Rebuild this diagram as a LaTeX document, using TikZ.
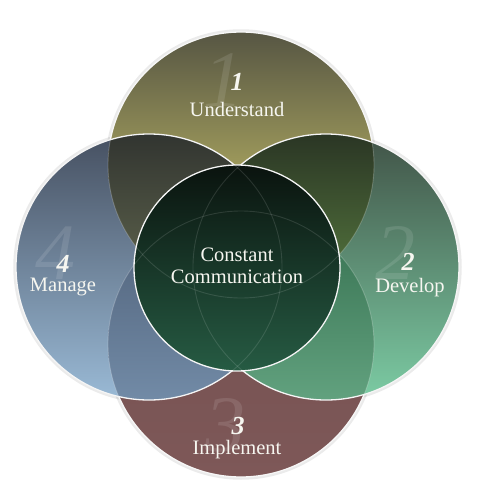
\documentclass[tikz,border=0pt]{standalone}
\usepackage{fontspec}
\setmainfont{Liberation Serif}
\definecolor{topA}{HTML}{565543}
\definecolor{topB}{HTML}{A09C5C}
\definecolor{botA}{HTML}{724F4F}
\definecolor{botB}{HTML}{7E5858}
\definecolor{lefA}{HTML}{465061}
\definecolor{lefB}{HTML}{9ABAD6}
\definecolor{rigA}{HTML}{415347}
\definecolor{rigB}{HTML}{7CCCA4}
\definecolor{tlA}{HTML}{313430}
\definecolor{tlB}{HTML}{646A50}
\definecolor{trA}{HTML}{2A3524}
\definecolor{trB}{HTML}{587C40}
\definecolor{blA}{HTML}{4E5F77}
\definecolor{blB}{HTML}{728BA7}
\definecolor{brA}{HTML}{346E4E}
\definecolor{brB}{HTML}{62A27F}
\definecolor{cenA}{HTML}{0A130E}
\definecolor{cenM}{HTML}{163424}
\definecolor{cenB}{HTML}{265B43}
\definecolor{txt}{HTML}{F6F6F0}
\begin{document}
\begin{tikzpicture}[x=1pt,y=-1pt,
  ring/.style={draw=white!92!gray, line width=1.3pt},
  halo/.style={draw=black, line width=3.5pt, opacity=0.08},
  faint/.style={draw=white, line width=0.9pt, opacity=0.22},
  lbl/.style={text=txt, font=\fontsize{20.5}{23}\selectfont, inner sep=0pt},
  num/.style={text=txt, font=\fontsize{26}{28}\selectfont\itshape\bfseries, inner sep=0pt},
  ghost/.style={text=white, opacity=0.11, font=\fontsize{80}{80}\selectfont\itshape, inner sep=0pt},
]
\useasboundingbox (0,0) rectangle (481,488);
\coordinate (T) at (241,165);
\coordinate (B) at (241,344);
\coordinate (L) at (149,267);
\coordinate (R) at (326,267);
\coordinate (C) at (237,268);
\def\rr{133pt}
\def\rc{103pt}
% halos
\foreach \p in {T,B,L,R}{\draw[halo] (\p) circle[radius=\rr+1pt];}
% top circle
\begin{scope}
  \clip (T) circle[radius=\rr];
  \shade[top color=topA, bottom color=topB] (100,31) rectangle (390,172);
  \fill[topB] (100,171) rectangle (390,300);
\end{scope}
\draw[ring] (T) circle[radius=\rr];
% bottom circle
\shade[top color=botA, bottom color=botB] (B) circle[radius=\rr];
\draw[ring] (B) circle[radius=\rr];
% left and right circles
\shade[top color=lefA, bottom color=lefB] (L) circle[radius=\rr];
\shade[top color=rigA, bottom color=rigB] (R) circle[radius=\rr];
% overlaps
\begin{scope}
  \clip (T) circle[radius=\rr]; \clip (L) circle[radius=\rr];
  \shade[top color=tlA, bottom color=tlB] (0,132) rectangle (300,300);
\end{scope}
\begin{scope}
  \clip (T) circle[radius=\rr]; \clip (R) circle[radius=\rr];
  \shade[top color=trA, bottom color=trB] (180,132) rectangle (481,300);
\end{scope}
\begin{scope}
  \clip (B) circle[radius=\rr]; \clip (L) circle[radius=\rr];
  \shade[top color=blA, bottom color=blB] (0,210) rectangle (300,402);
\end{scope}
\begin{scope}
  \clip (B) circle[radius=\rr]; \clip (R) circle[radius=\rr];
  \shade[top color=brA, bottom color=brB] (180,210) rectangle (481,402);
\end{scope}
% faint edges of top / bottom seen through
\draw[faint] (T) circle[radius=\rr];
\draw[faint] (B) circle[radius=\rr];
\draw[ring] (L) circle[radius=\rr];
\draw[ring] (R) circle[radius=\rr];
% centre circle
\shade[top color=cenA, middle color=cenM, bottom color=cenB] (C) circle[radius=\rc];
\begin{scope}
  \clip (C) circle[radius=\rc];
  \foreach \p in {T,B,L,R}{\draw[faint, opacity=0.12] (\p) circle[radius=\rr];}
\end{scope}
\draw[ring] (C) circle[radius=\rc];
% ghost numbers
\node[ghost] (g1) at (223,80) {1};
\node[ghost] (g2) at (395,253) {2};
\node[ghost] (g3) at (225,425) {3};
\node[ghost] (g4) at (55,253) {4};
% numbers and labels
\node[num] (n1) at (237,82) {1};
\node[lbl] (l1) at (237,109) {Understand};
\node[num] (n2) at (408,262) {2};
\node[lbl] (l2) at (410,288) {Develop};
\node[num] (n3) at (238,426) {3};
\node[lbl] (l3) at (237,450) {Implement};
\node[num] (n4) at (63,264) {4};
\node[lbl] (l4) at (63,287) {Manage};
\node[lbl] (c1) at (237,255) {Constant};
\node[lbl] (c2) at (237,277) {Communication};
\end{tikzpicture}
\end{document}
